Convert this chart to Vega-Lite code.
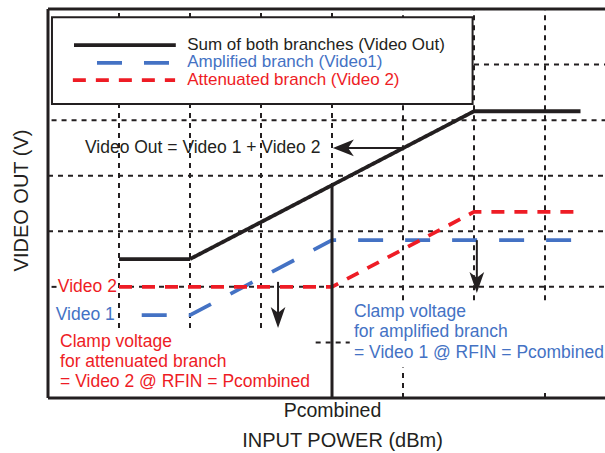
{
  "$schema": "https://vega.github.io/schema/vega-lite/v6.json",
  "width": 557,
  "height": 389,
  "autosize": {"type": "none"},
  "padding": {"left": 48, "top": 9, "right": 0, "bottom": 55},
  "background": "white",
  "config": {"font": "Liberation Sans", "view": {"stroke": null}},
  "datasets": {
    "segments": [
      {"kind": "grid", "x": 6.0, "x2": 7.85, "y": 6, "y2": 6},
      {"kind": "grid", "x": 0.05, "x2": 7.85, "y": 5, "y2": 5},
      {"kind": "grid", "x": 0, "x2": 7.85, "y": 4, "y2": 4},
      {"kind": "grid", "x": 0, "x2": 7.85, "y": 3, "y2": 3},
      {"kind": "grid", "x": 0.05, "x2": 0.12, "y": 2, "y2": 2},
      {"kind": "grid", "x": 1.0, "x2": 7.85, "y": 2, "y2": 2},
      {"kind": "grid", "x": 3.77, "x2": 4.25, "y": 1, "y2": 1},
      {"kind": "grid", "x": 1, "x2": 1, "y": 1.26, "y2": 7},
      {"kind": "grid", "x": 2, "x2": 2, "y": 1.26, "y2": 7},
      {"kind": "grid", "x": 3, "x2": 3, "y": 1.26, "y2": 7},
      {"kind": "grid", "x": 4, "x2": 4, "y": 0, "y2": 7},
      {"kind": "grid", "x": 5, "x2": 5, "y": 1.76, "y2": 7},
      {"kind": "grid", "x": 5, "x2": 5, "y": 0, "y2": 0.55},
      {"kind": "grid", "x": 6, "x2": 6, "y": 1.76, "y2": 7},
      {"kind": "grid", "x": 7, "x2": 7, "y": 1.76, "y2": 7},
      {"kind": "grid", "x": 7, "x2": 7, "y": 0, "y2": 0.15},
      {"kind": "frame", "x": 0, "x2": 0, "y": 0, "y2": 7},
      {"kind": "frame", "x": 0, "x2": 7.85, "y": 7, "y2": 7},
      {"kind": "frame", "x": 0, "x2": 7.85, "y": 0, "y2": 0},
      {"kind": "marker", "x": 4, "x2": 4, "y": 0, "y2": 3.83},
      {"kind": "arrow", "x": 5.0, "x2": 4.2, "y": 4.5, "y2": 4.5},
      {"kind": "arrow", "x": 3.24, "x2": 3.24, "y": 2.09, "y2": 1.5},
      {"kind": "arrow", "x": 6.04, "x2": 6.04, "y": 2.84, "y2": 2.1}
    ],
    "legendbox": [
      {"x": 0.056, "x2": 5.98, "y": 5.29, "y2": 6.85}
    ],
    "lines": [
      {"series": "Video Out", "part": "curve", "x": 1.0, "y": 2.5},
      {"series": "Video Out", "part": "curve", "x": 2.0, "y": 2.5},
      {"series": "Video Out", "part": "curve", "x": 6.0, "y": 5.16},
      {"series": "Video Out", "part": "curve", "x": 7.5, "y": 5.16},
      {"series": "Video 1", "part": "curve", "x": 1.32, "y": 1.49},
      {"series": "Video 1", "part": "curve", "x": 2.0, "y": 1.49},
      {"series": "Video 1", "part": "curve", "x": 4.0, "y": 2.84},
      {"series": "Video 1", "part": "curve", "x": 7.5, "y": 2.84},
      {"series": "Video 2", "part": "curve", "x": 1.0, "y": 2.0},
      {"series": "Video 2", "part": "curve", "x": 4.0, "y": 2.0},
      {"series": "Video 2", "part": "curve", "x": 6.0, "y": 3.35},
      {"series": "Video 2", "part": "curve", "x": 7.5, "y": 3.35},
      {"series": "Video Out", "part": "key", "x": 0.366, "y": 6.35},
      {"series": "Video Out", "part": "key", "x": 1.8, "y": 6.35},
      {"series": "Video 1", "part": "key", "x": 0.69, "y": 6.03},
      {"series": "Video 1", "part": "key", "x": 1.73, "y": 6.03},
      {"series": "Video 2", "part": "key", "x": 0.35, "y": 5.72},
      {"series": "Video 2", "part": "key", "x": 1.79, "y": 5.72}
    ],
    "heads": [
      {"dir": "left", "x": 4.16, "y": 4.5},
      {"dir": "down", "x": 3.24, "y": 1.448},
      {"dir": "down", "x": 6.04, "y": 2.077}
    ],
    "legendtext": [
      {"text": "Sum of both branches (Video Out)", "series": "Video Out", "x": 1.96, "y": 6.36},
      {"text": "Amplified branch (Video1)", "series": "Video 1", "x": 1.96, "y": 6.04},
      {"text": "Attenuated branch (Video 2)", "series": "Video 2", "x": 1.96, "y": 5.72}
    ],
    "labels": [
      {"text": "Video Out = Video 1 + Video 2", "series": "Video Out", "x": 0.52, "y": 4.5},
      {"text": "Clamp voltage", "series": "Video 2", "x": 0.17, "y": 1.0},
      {"text": "for attenuated branch", "series": "Video 2", "x": 0.17, "y": 0.64},
      {"text": "= Video 2 @ RFIN = Pcombined", "series": "Video 2", "x": 0.17, "y": 0.28},
      {"text": "Clamp voltage", "series": "Video 1", "x": 4.31, "y": 1.55},
      {"text": "for amplified branch", "series": "Video 1", "x": 4.31, "y": 1.19},
      {"text": "= Video 1 @ RFIN = Pcombined", "series": "Video 1", "x": 4.31, "y": 0.81}
    ],
    "tags": [
      {"text": "Video 2", "series": "Video 2", "x": 0.97, "y": 2.0},
      {"text": "Video 1", "series": "Video 1", "x": 0.94, "y": 1.49}
    ]
  },
  "encoding": {
    "x": {
      "field": "x", "type": "quantitative",
      "scale": {"domain": [0, 7.845], "nice": false, "zero": false},
      "axis": {
        "values": [4], "labelExpr": "'Pcombined'", "ticks": false, "domain": false, "grid": false,
        "labelFontSize": 19.5, "labelBaseline": "middle", "labelPadding": 12, "labelColor": "#231f20",
        "title": "INPUT POWER (dBm)", "titleFontSize": 20, "titleFontWeight": "normal", "titleColor": "#231f20",
        "titleX": 294, "titleY": 42, "titleBaseline": "middle"
      }
    },
    "y": {
      "field": "y", "type": "quantitative",
      "scale": {"domain": [0, 7], "nice": false, "zero": false},
      "axis": {
        "labels": false, "ticks": false, "domain": false, "grid": false,
        "title": "VIDEO OUT (V)", "titleFontSize": 20, "titleFontWeight": "normal", "titleColor": "#231f20",
        "titleX": -27, "titleY": 191, "titleBaseline": "middle"
      }
    }
  },
  "layer": [
    {
      "data": {"name": "segments"},
      "transform": [{"filter": "datum.kind === 'grid'"}],
      "mark": {"type": "rule", "color": "#231f20", "strokeWidth": 2, "strokeDash": [5, 5]},
      "encoding": {"x2": {"field": "x2"}, "y2": {"field": "y2"}}
    },
    {
      "data": {"name": "legendbox"},
      "mark": {"type": "rect", "fill": "white", "stroke": "#231f20", "strokeWidth": 2},
      "encoding": {"x2": {"field": "x2"}, "y2": {"field": "y2"}}
    },
    {
      "data": {"name": "segments"},
      "transform": [{"filter": "datum.kind === 'frame'"}],
      "mark": {"type": "rule", "color": "#231f20", "strokeWidth": 3},
      "encoding": {"x2": {"field": "x2"}, "y2": {"field": "y2"}}
    },
    {
      "data": {"name": "lines"},
      "mark": {"type": "line", "strokeWidth": 3.8},
      "encoding": {
        "detail": {"field": "part"},
        "color": {"field": "series", "type": "nominal",
          "scale": {"domain": ["Video Out", "Video 1", "Video 2"], "range": ["#231f20", "#4472c4", "#ee1c25"]},
          "legend": null},
        "strokeDash": {"field": "series", "type": "nominal",
          "scale": {"domain": ["Video Out", "Video 1", "Video 2"], "range": [[1, 0], [25, 22], [13, 10]]},
          "legend": null}
      }
    },
    {
      "data": {"name": "segments"},
      "transform": [{"filter": "datum.kind === 'marker'"}],
      "mark": {"type": "rule", "color": "#231f20", "strokeWidth": 3},
      "encoding": {"x2": {"field": "x2"}, "y2": {"field": "y2"}}
    },
    {
      "data": {"name": "segments"},
      "transform": [{"filter": "datum.kind === 'arrow'"}],
      "mark": {"type": "rule", "color": "#231f20", "strokeWidth": 2},
      "encoding": {"x2": {"field": "x2"}, "y2": {"field": "y2"}}
    },
    {
      "data": {"name": "heads"},
      "mark": {"type": "point", "filled": true, "opacity": 1, "color": "#231f20", "size": 441, "strokeWidth": 0},
      "encoding": {
        "shape": {"field": "dir", "type": "nominal",
          "scale": {"domain": ["down", "left"], "range": ["M-0.7,-1L0,1L0.7,-1L0,-0.45Z", "M1,-0.8L-1,0L1,0.8L0.45,0Z"]},
          "legend": null}
      }
    },
    {
      "data": {"name": "legendtext"},
      "mark": {"type": "text", "align": "left", "baseline": "middle", "fontSize": 17},
      "encoding": {
        "text": {"field": "text"},
        "color": {"field": "series", "type": "nominal", "legend": null}
      }
    },
    {
      "data": {"name": "labels"},
      "mark": {"type": "text", "align": "left", "baseline": "middle", "fontSize": 17.5},
      "encoding": {
        "text": {"field": "text"},
        "color": {"field": "series", "type": "nominal", "legend": null}
      }
    },
    {
      "data": {"name": "tags"},
      "mark": {"type": "text", "align": "right", "baseline": "middle", "fontSize": 17.5},
      "encoding": {
        "text": {"field": "text"},
        "color": {"field": "series", "type": "nominal", "legend": null}
      }
    }
  ]
}
